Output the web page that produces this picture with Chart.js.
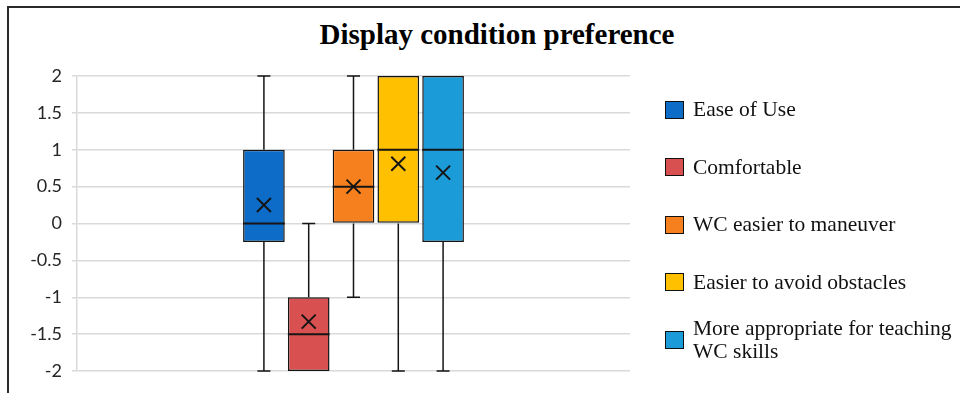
<!DOCTYPE html>
<html>
<head>
<meta charset="utf-8">
<script src="https://cdn.jsdelivr.net/npm/chart.js@4"></script>
<style>
  html, body { margin: 0; padding: 0; background: #fff; overflow: hidden; }
  #wrap { position: relative; width: 960px; height: 393px; }
  #frame { position: absolute; left: 7px; top: 6px; width: 1000px; height: 500px; border: 2px solid #2a2a2a; box-sizing: border-box; }
  #titulo { position: absolute; left: 8px; width: 978px; top: 20px; text-align: center;
    font: bold 29px "Liberation Serif", "Times New Roman", serif; line-height: 28px; color: #000; }
  #grafico { position: absolute; left: 0; top: 0; }
  #legenda { position: absolute; left: 665px; top: 81px; }
  .item { display: flex; align-items: center; height: 57.5px; }
  .quad { width: 19px; height: 18px; border: 1.5px solid #111; box-sizing: border-box; flex: none; margin-right: 9px; }
  .txt { font: 21.5px "Liberation Serif", "Times New Roman", serif; line-height: 23px; color: #111; width: 268px; }
</style>
</head>
<body>
<div id="wrap">
  <div id="frame"></div>
  <div id="titulo">Display condition preference</div>
  <canvas id="grafico" width="960" height="393"></canvas>
  <div id="legenda"></div>
</div>
<script>
const categorias = ['Ease of Use', 'Comfortable', 'WC easier to maneuver', 'Easier to avoid obstacles', 'More appropriate for teaching WC skills']
const minimos = [-2, -2, -1, -2, -2]
const quartil1 = [-0.25, -2, 0, 0, -0.25]
const medianas = [0, -1.5, 0.5, 1, 1]
const quartil3 = [1, -1, 1, 2, 2]
const maximos = [2, 0, 2, 2, 2]
const medias = [0.25, -1.33, 0.5, 0.81, 0.69]
const cores = ['#0d6cc7', '#d95050', '#f7801e', '#ffc000', '#1b9bd8']

// legenda em html
const legenda = document.querySelector('#legenda')
categorias.forEach(function (nome, i) {
    const item = document.createElement('div')
    item.className = 'item'
    item.innerHTML = '<div class="quad" style="background:' + cores[i] + '"></div><div class="txt">' + nome + '</div>'
    legenda.appendChild(item)
})

const datasets = categorias.map(function (nome, i) {
    return {
        label: nome,
        data: [[quartil1[i], quartil3[i]]],
        backgroundColor: cores[i],
        borderColor: '#151515',
        borderWidth: 1.5,
        borderSkipped: false,
        categoryPercentage: 0.405,
        barPercentage: 0.93
    }
})

// bigodes, mediana e media (X)
const caixaPlugin = {
    id: 'caixa',
    afterDatasetsDraw(chart) {
        const ctx = chart.ctx
        const y = chart.scales.y
        ctx.save()
        ctx.strokeStyle = '#151515'
        chart.data.datasets.forEach(function (ds, i) {
            const bar = chart.getDatasetMeta(i).data[0]
            const cx = bar.x
            const half = bar.width / 2
            ctx.lineWidth = 1.5
            ctx.beginPath()
            // bigode superior
            if (maximos[i] > quartil3[i]) {
                ctx.moveTo(cx, y.getPixelForValue(quartil3[i]))
                ctx.lineTo(cx, y.getPixelForValue(maximos[i]))
                ctx.moveTo(cx - 6.5, y.getPixelForValue(maximos[i]))
                ctx.lineTo(cx + 6.5, y.getPixelForValue(maximos[i]))
            }
            // bigode inferior
            if (minimos[i] < quartil1[i]) {
                ctx.moveTo(cx, y.getPixelForValue(quartil1[i]))
                ctx.lineTo(cx, y.getPixelForValue(minimos[i]))
                ctx.moveTo(cx - 6.5, y.getPixelForValue(minimos[i]))
                ctx.lineTo(cx + 6.5, y.getPixelForValue(minimos[i]))
            }
            ctx.stroke()
            // mediana
            const ym = y.getPixelForValue(medianas[i])
            ctx.lineWidth = 2
            ctx.beginPath()
            ctx.moveTo(cx - half, ym)
            ctx.lineTo(cx + half, ym)
            ctx.stroke()
            // media
            const yx = y.getPixelForValue(medias[i])
            ctx.beginPath()
            ctx.moveTo(cx - 7, yx - 7)
            ctx.lineTo(cx + 7, yx + 7)
            ctx.moveTo(cx + 7, yx - 7)
            ctx.lineTo(cx - 7, yx + 7)
            ctx.stroke()
        })
        ctx.restore()
    }
}

const config = {
    type: 'bar',
    data: { labels: [''], datasets: datasets },
    options: {
        responsive: false,
        animation: false,
        layout: { padding: { left: 8, top: 76, right: 330, bottom: 22 } },
        plugins: {
            legend: { display: false },
            title: { display: false },
            tooltip: { enabled: false }
        },
        scales: {
            x: { display: false },
            y: {
                min: -2,
                max: 2,
                afterFit: function (scale) { scale.width = 69 },
                ticks: {
                    stepSize: 0.5,
                    padding: 10,
                    color: '#262626',
                    font: { size: 18, family: 'Lato' },
                    callback: function (valor) { return String(valor) }
                },
                grid: { color: '#d9d9d9', lineWidth: 1.5, tickLength: 5 },
                border: { color: '#d9d9d9', width: 1.5 }
            }
        }
    },
    plugins: [caixaPlugin]
}

const grafico = new Chart(document.querySelector('#grafico'), config)
</script>
</body>
</html>
